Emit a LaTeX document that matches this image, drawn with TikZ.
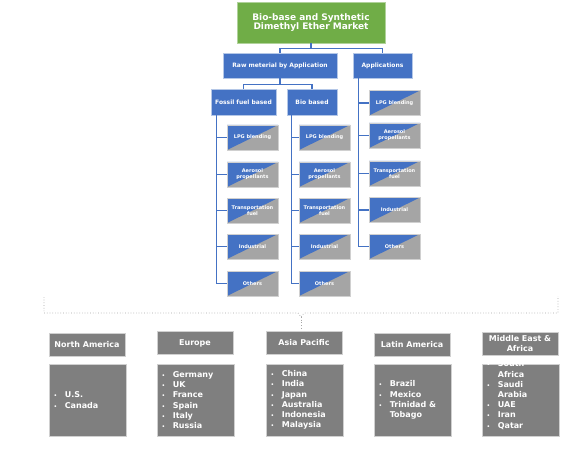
\documentclass[tikz,border=0pt]{standalone}
\usepackage{fontspec}
\setmainfont{DejaVu Sans}
\usetikzlibrary{calc}
\definecolor{dgreen}{HTML}{70AD47}
\definecolor{dblue}{HTML}{4472C4}
\definecolor{lblue}{HTML}{B4C7E7}
\definecolor{cgray}{HTML}{A5A5A5}
\definecolor{rgray}{HTML}{7F7F7F}
\definecolor{bgray}{HTML}{D0D0D0}
\newcommand\itm[1]{\makebox[11pt][l]{\fontsize{5}{5}\selectfont\textbullet}#1}
\begin{document}
\begin{tikzpicture}[x=1pt,y=-1pt,
 titlebox/.style={draw=dgreen!55!white, line width=0.8pt, fill=dgreen, text=white,
   font=\bfseries\fontsize{9}{9}\selectfont, align=center, minimum width=148pt, minimum height=41pt, inner sep=0pt},
 bluebox/.style={draw=lblue, line width=0.8pt, fill=dblue, text=white,
   font=\bfseries\fontsize{6}{7}\selectfont, inner sep=0pt, align=center},
 leaf/.style={draw=bgray, line width=0.6pt, fill=cgray, text=white,
   font=\bfseries\fontsize{5}{5.8}\selectfont, align=center, minimum width=51pt, minimum height=25pt, inner sep=0pt,
   path picture={\fill[dblue] (path picture bounding box.south west) -- (path picture bounding box.north west) -- (path picture bounding box.north east) -- cycle;}},
 conn/.style={draw=dblue, line width=1.5pt},
 bracel/.style={draw=gray!70, dotted, line width=0.7pt},
 rhead/.style={draw=bgray, line width=0.8pt, fill=rgray, text=white,
   font=\bfseries\fontsize{8}{9.5}\selectfont, align=center, minimum width=76pt, minimum height=23pt, inner sep=0pt},
 rbody/.style={draw=bgray, line width=0.8pt, fill=rgray, minimum width=77pt, minimum height=72pt, inner sep=0pt},
 rtext/.style={text=white, font=\bfseries\fontsize{8}{10.2}\selectfont, align=left, inner sep=0pt, anchor=west}
]
\fill[white] (0,0) rectangle (572,449);
\useasboundingbox (0,0) rectangle (572,449);

% top level
\node[titlebox] (top) at (311,22.5) {Bio-base and Synthetic\\Dimethyl Ether Market};
\node[bluebox, minimum width=114pt, minimum height=25pt] (raw) at (280,65.5) {Raw meterial by Application};
\node[bluebox, minimum width=59pt, minimum height=25pt] (app) at (382.5,65.5) {Applications};
\node[bluebox, minimum width=65pt, minimum height=26pt] (fos) at (243.5,102) {Fossil fuel based};
\node[bluebox, minimum width=50pt, minimum height=26pt] (bio) at (312,102) {Bio based};

\draw[conn] (top.south) -- ++(0,5) coordinate (tj);
\draw[conn] (tj) -| (raw.north);
\draw[conn] (tj) -| (app.north);
\draw[conn] (raw.south) -- ++(0,6) coordinate (rj);
\draw[conn] (rj) -| (fos.north);
\draw[conn] (rj) -| (bio.north);

% leaves
\foreach \i/\yy/\t in {1/137.5/{LPG blending},2/174.5/{Aerosol\\propellants},3/210.5/{Transportation\\fuel},4/246.5/{Industrial},5/283.5/{Others}}{
  \node[leaf] (f\i) at (252.5,\yy) {\t};
  \node[leaf] (b\i) at (324.5,\yy) {\t};
}
\foreach \i/\yy/\t in {1/103/{LPG blending},2/135.5/{Aerosol\\propellants},3/173.5/{Transportation\\fuel},4/210/{Industrial},5/246.5/{Others}}{
  \node[leaf] (a\i) at (394.5,\yy) {\t};
}
\coordinate (fs) at ($(fos.south west)+(6,0)$);
\coordinate (bs) at ($(bio.south west)+(5,0)$);
\coordinate (as) at ($(app.south west)+(6,0)$);
\foreach \i in {1,...,5}{
  \draw[conn] (fs) |- (f\i.west);
  \draw[conn] (bs) |- (b\i.west);
  \draw[conn] (as) |- (a\i.west);
}

% dotted brace
\coordinate (bl) at (44,297);
\coordinate (bl2) at (44,313);
\coordinate (bm1) at (298,313);
\coordinate (bm) at (301,317);
\coordinate (bm2) at (304,313);
\coordinate (br2) at (558,313);
\coordinate (br) at (558,296);
\coordinate (bd) at (301,329);
\draw[bracel] (bl) -- (bl2) -- (bm1) -- (bm) -- (bm2) -- (br2) -- (br);
\draw[bracel] (bm) -- (bd);

% regions
\node[rhead] (na) at (87,344.5) {North America};
\node[rhead] (eu) at (195,343) {Europe};
\node[rhead] (ap) at (304,343) {Asia Pacific};
\node[rhead] (la) at (412,344.5) {Latin America};
\node[rhead] (me) at (520,343.5) {Middle East \&\\Africa};

\node[rbody] (nab) at (87.5,400) {};
\node[rbody] (eub) at (195.5,400) {};
\node[rbody] (apb) at (304.5,400) {};
\node[rbody] (lab) at (412.5,400) {};
\node[rbody] (meb) at (520.5,400) {};

\node[rtext] (nat) at ($(nab.west)+(5,0)$) {\itm{U.S.}\\\itm{Canada}};
\node[rtext] (eut) at ($(eub.west)+(5,0)$) {\itm{Germany}\\\itm{UK}\\\itm{France}\\\itm{Spain}\\\itm{Italy}\\\itm{Russia}};
\node[rtext] (apt) at ($(apb.west)+(5,0)$) {\itm{China}\\\itm{India}\\\itm{Japan}\\\itm{Australia}\\\itm{Indonesia}\\\itm{Malaysia}};
\node[rtext] (lat) at ($(lab.west)+(5,0)$) {\itm{Brazil}\\\itm{Mexico}\\\itm{Trinidad \&}\\\hspace*{11pt}Tobago};
\node[rtext] (met) at ($(meb.west)+(5,-5)$) {\itm{South}\\\hspace*{11pt}Africa\\\itm{Saudi}\\\hspace*{11pt}Arabia\\\itm{UAE}\\\itm{Iran}\\\itm{Qatar}};
\end{tikzpicture}
\end{document}
